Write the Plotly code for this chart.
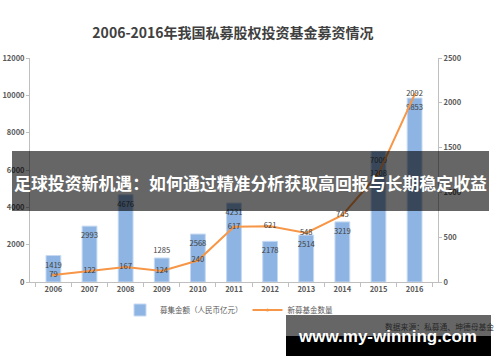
import plotly.graph_objects as go

# ---- data ----
years = ["2006", "2007", "2008", "2009", "2010", "2011", "2012", "2013", "2014", "2015", "2016"]
fund_amount = [1419, 2993, 4676, 1285, 2568, 4231, 2178, 2514, 3219, 7000, 9853]   # 募集金额（人民币亿元）
fund_count = [79, 122, 167, 124, 240, 617, 621, 548, 745, 1208, 2092]              # 新募基金数量
bar_label_pos = ["inside", "inside", "inside", "outside", "inside", "inside",
                 "inside", "inside", "inside", "inside", "inside"]

title_text = "2006-2016年我国私募股权投资基金募资情况"
banner_text = "足球投资新机遇：如何通过精准分析获取高回报与长期稳定收益"
source_text = "数据来源：私募通、坤德母基金"
watermark_text = "www.my-winning.com"

# ---- layout geometry helpers ----
W, H = 500, 362
L, R, T, B = 30, 62, 58, 80
pw, ph = W - L - R, H - T - B


def px(x):
    return (x - L) / pw


def py(y):
    return (H - B - y) / ph


CJK = "Noto Sans CJK SC"
AX = "#BFBFBF"
TXT = "#595959"

fig = go.Figure()
fig.add_trace(go.Bar(
    x=years, y=fund_amount, name="募集金额（人民币亿元）",
    marker=dict(color="#8DB4E2", line=dict(color="#C6D9F1", width=1)),
    text=[str(v) for v in fund_amount], textposition=bar_label_pos,
    insidetextanchor="end", constraintext="none", textangle=0,
    textfont=dict(family=CJK, size=7.6, color="#404040"),
    cliponaxis=False, hoverinfo="skip",
))
fig.add_trace(go.Scatter(
    x=years, y=fund_count, name="新募基金数量", yaxis="y2",
    mode="lines+markers+text",
    line=dict(color="#F79646", width=2),
    marker=dict(color="#F79646", size=3),
    text=[str(v) for v in fund_count], textposition="middle center",
    textfont=dict(family=CJK, size=7.6, color="#404040"),
    cliponaxis=False, hoverinfo="skip",
))

tickfont = dict(family=CJK, size=7.5, color=TXT, weight="bold")

fig.update_layout(
    width=W, height=H,
    margin=dict(l=L, r=R, t=T, b=B, autoexpand=False),
    paper_bgcolor="white", plot_bgcolor="white",
    showlegend=True,
    bargap=0.59,
    title=dict(text="<b>" + title_text + "</b>", x=233 / W, xanchor="center",
               y=1 - 33 / H, yanchor="middle", xref="container", yref="container",
               font=dict(family=CJK, size=14, color="#404040")),
    xaxis=dict(type="category", showline=True, linecolor=AX, linewidth=1,
               ticks="outside", tickson="boundaries", ticklen=4, tickcolor=AX,
               showgrid=False, tickfont=tickfont, fixedrange=True, automargin=False),
    yaxis=dict(range=[0, 12000], dtick=2000, tickformat="d", showline=True, linecolor=AX,
               ticks="outside", ticklen=3, tickcolor=AX, showgrid=False,
               zeroline=False, tickfont=tickfont, fixedrange=True, automargin=False),
    yaxis2=dict(range=[0, 2500], dtick=500, tickformat="d", overlaying="y", side="right",
                showline=True, linecolor=AX, ticks="outside", ticklen=3,
                tickcolor=AX, showgrid=False, zeroline=False,
                tickfont=tickfont, fixedrange=True, automargin=False),
    legend=dict(orientation="h", x=px(229), xanchor="center", y=py(310), yanchor="middle",
                font=dict(family=CJK, size=7.5, color=TXT), itemwidth=30,
                bgcolor="rgba(0,0,0,0)"),
    shapes=[
        dict(type="rect", xref="paper", yref="paper", layer="above",
             x0=px(12), x1=px(489), y0=py(211), y1=py(151),
             fillcolor="rgba(0,0,0,0.6)", line=dict(width=0)),
        dict(type="rect", xref="paper", yref="paper", layer="above",
             x0=px(286), x1=px(491), y0=py(336), y1=py(315),
             fillcolor="rgba(0,0,0,0.6)", line=dict(width=0)),
        dict(type="rect", xref="paper", yref="paper", layer="above",
             x0=px(286), x1=px(491), y0=py(356), y1=py(336),
             fillcolor="black", line=dict(width=0)),
    ],
    annotations=[
        dict(text=source_text, xref="paper", yref="paper", x=px(383), y=py(326),
             xanchor="left", yanchor="middle", showarrow=False,
             font=dict(family=CJK, size=7.8, color="#262626")),
        dict(text="<b>" + banner_text + "</b>", xref="paper", yref="paper",
             x=px(250.5), y=py(182), xanchor="center", yanchor="middle", showarrow=False,
             font=dict(family=CJK, size=16.9, color="white")),
        dict(text="<b>" + watermark_text + "</b>", xref="paper", yref="paper",
             x=px(387.5), y=py(336), xanchor="center", yanchor="middle", showarrow=False,
             font=dict(family="Liberation Sans", size=17, color="white")),
    ],
)

fig.write_html("out.html", config={"displayModeBar": False},
               post_script="document.body.style.margin='0';document.body.style.padding='0';")
